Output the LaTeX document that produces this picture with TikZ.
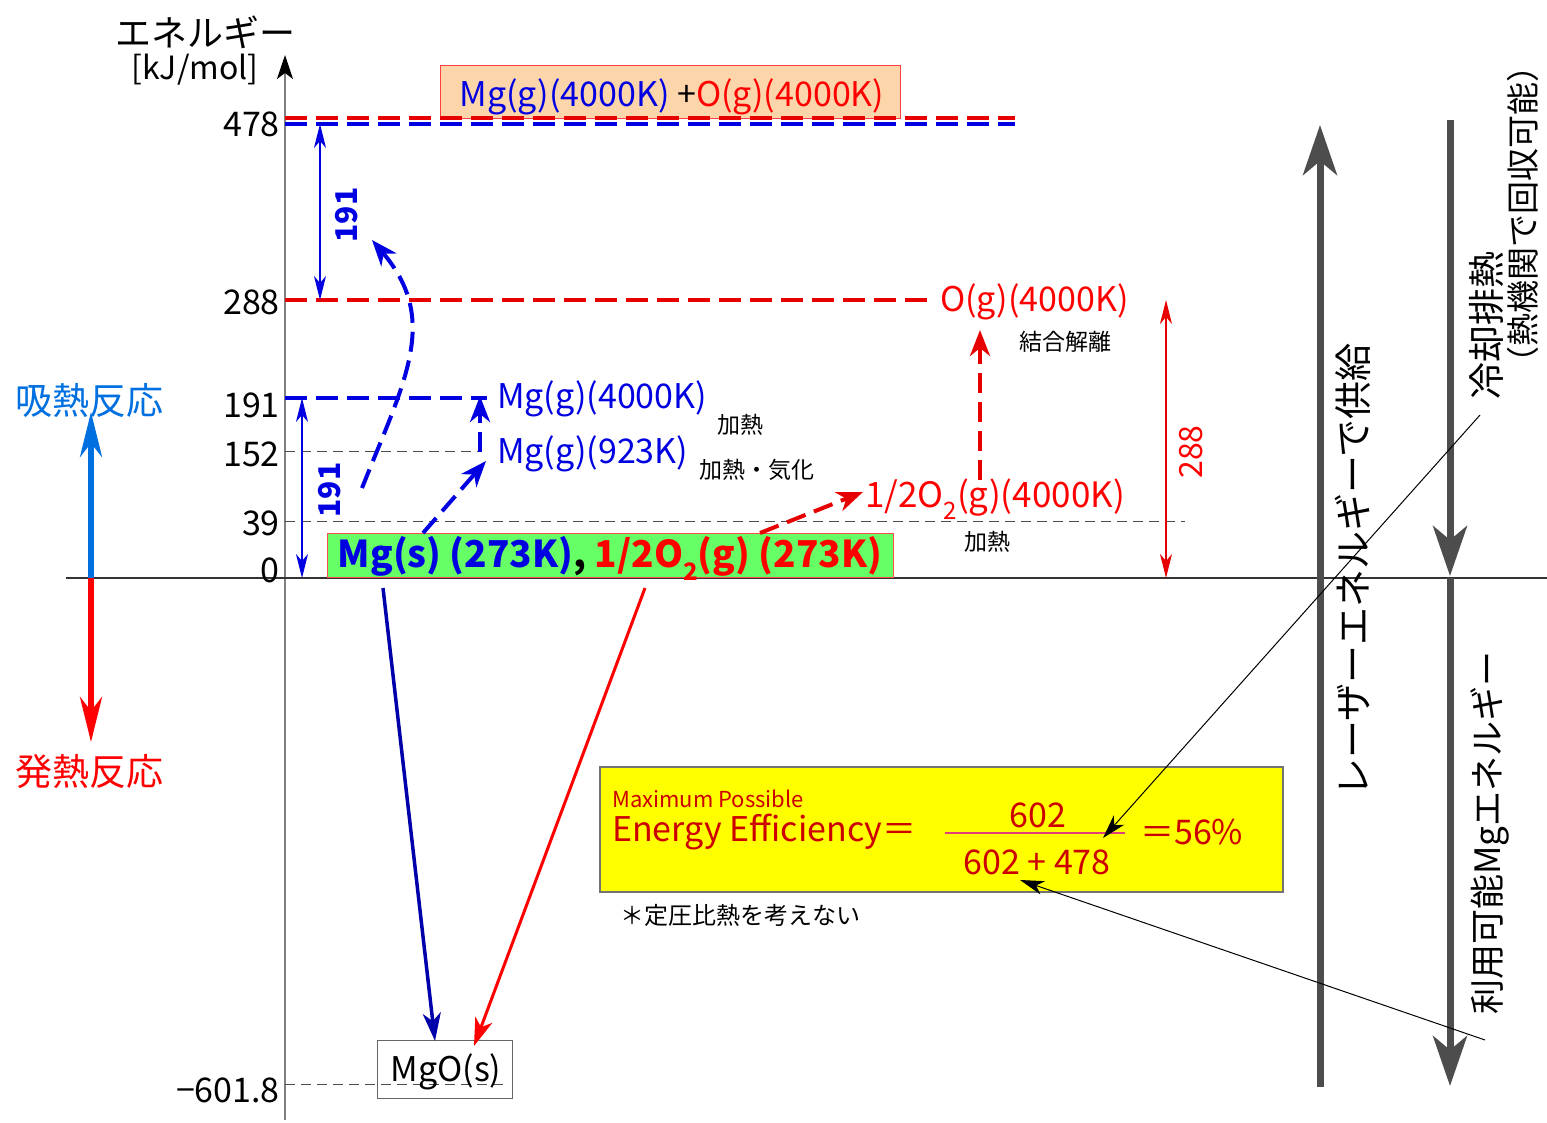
\documentclass[tikz,border=0pt]{standalone}
\usepackage{fontspec}
\setmainfont{Noto Sans CJK JP}
\usetikzlibrary{arrows.meta}
\definecolor{blueT}{RGB}{0,0,225}
\definecolor{redT}{RGB}{255,0,0}
\definecolor{redL}{RGB}{230,0,0}
\definecolor{dblue}{RGB}{0,0,170}
\definecolor{lblue}{RGB}{0,112,224}
\definecolor{garr}{RGB}{77,77,77}
\definecolor{peach}{RGB}{253,213,170}
\definecolor{gfill}{RGB}{102,255,102}
\definecolor{yfill}{RGB}{255,255,0}
\definecolor{dred}{RGB}{204,0,0}
\definecolor{fracl}{RGB}{224,64,122}
\newcommand{\fs}[1]{\fontsize{#1}{#1}\selectfont}
\newcommand{\mysub}[1]{\raisebox{-0.35em}{\fs{24}#1}}
\tikzset{
  lbl/.style={inner sep=0pt, font=\fs{34}},
  tick/.style={inner sep=0pt, anchor=east, font=\fs{34}},
  small/.style={inner sep=0pt, font=\fs{23}},
  lvl/.style={line width=4.5pt, dash pattern=on 22pt off 9pt},
  thindash/.style={line width=1pt, dash pattern=on 10pt off 6pt, draw=black!70},
  dblarr/.style={line width=1.5pt, {Stealth[length=24pt,width=12pt,inset=7pt]}-{Stealth[length=24pt,width=12pt,inset=7pt]}},
  dasharr/.style={line width=4pt, dash pattern=on 20pt off 9pt, -{Stealth[length=26pt,width=20pt,inset=8pt]}},
  solidarr/.style={line width=3.5pt, -{Stealth[length=28pt,width=18pt,inset=8pt]}},
  bigarr/.style={line width=7pt, draw=garr, -{Stealth[length=50pt,width=34pt,inset=14pt]}},
  thinarr/.style={line width=1pt, -{Stealth[length=24pt,width=14pt,inset=7pt]}},
  sidearr/.style={line width=6pt, -{Stealth[length=45pt,width=22pt,inset=14pt]}},
}
\begin{document}
\begin{tikzpicture}[x=1pt,y=-1pt]
\useasboundingbox (0,0) rectangle (1547,1123);
% axes
\coordinate (axB) at (285,1120);
\coordinate (axT) at (285,55);
\draw[line width=2pt, draw=black!50, -{Stealth[length=24pt,width=16pt,inset=6pt,color=black]}] (axB) -- (axT);
\coordinate (zL) at (66,578);
\coordinate (zR) at (1547,578);
\draw[line width=1.2pt, draw=black!80] (zL) -- (zR);
\node[inner sep=0pt, font=\fs{36}] (ttl) at (205,32) {エネルギー};
\node[inner sep=0pt, font=\fs{32}] (unit) at (195,70) {[kJ/mol]};
% ticks
\node[tick] (t478) at (280,124) {478};
\node[tick] (t288) at (280,302) {288};
\node[tick] (t191) at (280,405) {191};
\node[tick] (t152) at (280,454) {152};
\node[tick] (t39) at (280,523) {39};
\node[tick] (t0) at (280,570) {0};
\node[tick] (tneg) at (280,1090) {−601.8};
% top box
\node[draw=red!75, line width=1pt, fill=peach, minimum width=460pt, minimum height=53pt, inner sep=0pt] (topbox) at (670,92) {};
\node[inner sep=0pt, font=\fs{34}] (toptext) at (672,97) {\textcolor{blueT}{Mg(g)(4000K)} +\textcolor{redT}{O(g)(4000K)}};
% levels
\coordinate (l478a) at (285,118); \coordinate (l478b) at (1015,118);
\coordinate (l478c) at (285,124); \coordinate (l478d) at (1015,124);
\draw[lvl, draw=redL] (l478a) -- (l478b);
\draw[lvl, draw=blueT] (l478c) -- (l478d);
\coordinate (l288a) at (285,300); \coordinate (l288b) at (930,300);
\draw[lvl, draw=redL] (l288a) -- (l288b);
\coordinate (l191a) at (285,398); \coordinate (l191b) at (487,398);
\draw[lvl, draw=blueT] (l191a) -- (l191b);
\coordinate (l152a) at (285,451); \coordinate (l152b) at (480,451);
\draw[thindash] (l152a) -- (l152b);
\coordinate (l39a) at (285,521); \coordinate (l39b) at (1185,521);
\draw[thindash] (l39a) -- (l39b);
\coordinate (lnega) at (285,1084); \coordinate (lnegb) at (505,1084);
\draw[thindash] (lnega) -- (lnegb);
% 191 arrows
\coordinate (a1t) at (320,124); \coordinate (a1b) at (320,300);
\draw[dblarr, draw=blueT] (a1t) -- (a1b);
\node[inner sep=0pt, rotate=90, font=\fs{30}\bfseries, text=blueT] (n191a) at (347,215) {191};
\coordinate (a2t) at (302,398); \coordinate (a2b) at (302,578);
\draw[dblarr, draw=blueT] (a2t) -- (a2b);
\node[inner sep=0pt, rotate=90, font=\fs{30}\bfseries, text=blueT] (n191b) at (330,490) {191};
% curve
\coordinate (cs) at (362,488); \coordinate (ce) at (372,240);
\draw[dasharr, draw=blueT] (cs) .. controls (405,380) and (440,320) .. (ce);
% labels
\node[lbl, anchor=west, text=blueT] (mg4000) at (497,399) {Mg(g)(4000K)};
\node[small] (kanetsu1) at (740,425) {加熱};
\node[lbl, anchor=west, text=blueT] (mg923) at (497,454) {Mg(g)(923K)};
\node[small] (kanetsu2) at (757,470) {加熱・気化};
\node[lbl, anchor=west, text=redT] (o4000) at (940,302) {O(g)(4000K)};
\node[small] (ketsugo) at (1065,342) {結合解離};
\node[lbl, anchor=west, text=redT, font=\fs{35}] (o2) at (865,499) {1/2O\mysub{2}(g)(4000K)};
\node[small] (kanetsu3) at (987,542) {加熱};
% green box
\node[draw=red!70, line width=1pt, fill=gfill, minimum width=566pt, minimum height=44pt, inner sep=0pt] (gbox) at (610,555) {};
\node[inner sep=0pt, font=\fs{37}\bfseries] (gtext) at (610,558) {\textcolor{blueT}{Mg(s) (273K)}, \textcolor{redT}{1/2O\mysub{2}(g) (273K)}};
% dashed arrows
\coordinate (d1s) at (423,533); \coordinate (d1e) at (486,461);
\draw[dasharr, draw=blueT] (d1s) -- (d1e);
\coordinate (d2s) at (480,452); \coordinate (d2e) at (480,396);
\draw[dasharr, draw=blueT] (d2s) -- (d2e);
\coordinate (d3s) at (760,533); \coordinate (d3e) at (863,492);
\draw[dasharr, draw=redL] (d3s) -- (d3e);
\coordinate (d4s) at (980,480); \coordinate (d4e) at (980,330);
\draw[dasharr, draw=redL] (d4s) -- (d4e);
% 288
\coordinate (r288t) at (1166,300); \coordinate (r288b) at (1166,578);
\draw[dblarr, draw=redL] (r288t) -- (r288b);
\node[inner sep=0pt, rotate=90, font=\fs{32}, text=redT] (n288) at (1191,452) {288};
% MgO
\node[draw=black!60, line width=1pt, minimum width=135pt, minimum height=58pt, inner sep=0pt] (mgo) at (445,1069) {};
\node[inner sep=0pt, font=\fs{34}] (mgotext) at (446,1072) {MgO(s)};
\coordinate (s1s) at (383,588); \coordinate (s1e) at (435,1041);
\draw[solidarr, draw=dblue] (s1s) -- (s1e);
\coordinate (s2s) at (645,588); \coordinate (s2e) at (474,1046);
\draw[solidarr, line width=3pt, draw=redT] (s2s) -- (s2e);
% left arrows
\coordinate (lo) at (91,578); \coordinate (lup) at (91,412); \coordinate (ldn) at (91,742);
\draw[sidearr, draw=lblue] (lo) -- (lup);
\draw[sidearr, draw=redT] (lo) -- (ldn);
\node[inner sep=0pt, font=\fs{37}, text=lblue] (kyu) at (90,400) {吸熱反応};
\node[inner sep=0pt, font=\fs{37}, text=redT] (hatsu) at (90,772) {発熱反応};
% right big arrows
\coordinate (u1b) at (1320,1087); \coordinate (u1t) at (1320,125);
\draw[bigarr] (u1b) -- (u1t);
\coordinate (v1t) at (1450,120); \coordinate (v1b) at (1450,576);
\draw[bigarr] (v1t) -- (v1b);
\coordinate (v2t) at (1450,578); \coordinate (v2b) at (1450,1086);
\draw[bigarr] (v2t) -- (v2b);
\node[inner sep=0pt, rotate=90, font=\fs{38}] (laser) at (1353,570) {レーザーエネルギーで供給};
\node[inner sep=0pt, rotate=90, anchor=west, font=\fs{37}] (reikyaku) at (1486,400) {冷却排熱};
\node[inner sep=0pt, rotate=90, anchor=west, font=\fs{33}] (netsukikan) at (1523,380) {（熱機関で回収可能）};
\node[inner sep=0pt, rotate=90, font=\fs{35}] (riyou) at (1490,833) {利用可能Mgエネルギー};
% yellow box
\node[draw=black!55, line width=1.5pt, fill=yfill, minimum width=683pt, minimum height=125pt, inner sep=0pt] (ybox) at (941.5,829.5) {};
\node[inner sep=0pt, anchor=west, font=\fs{22}, text=dred] (maxp) at (612,799) {Maximum Possible};
\node[inner sep=0pt, anchor=west, font=\fs{34}, text=dred] (ee) at (612,832) {Energy Efficiency＝};
\node[inner sep=0pt, font=\fs{34}, text=dred] (num) at (1038,815) {602};
\coordinate (fa) at (945,833); \coordinate (fb) at (1125,833);
\draw[line width=2pt, draw=fracl] (fa) -- (fb);
\node[inner sep=0pt, font=\fs{34}, text=dred] (den) at (1037,862) {602 + 478};
\node[inner sep=0pt, anchor=west, font=\fs{34}, text=dred] (res) at (1140,832) {＝56\%};
\node[inner sep=0pt, anchor=west, font=\fs{24}] (note) at (620,915) {＊定圧比熱を考えない};
% thin pointer arrows
\coordinate (p1s) at (1480,415); \coordinate (p1e) at (1103,838);
\draw[thinarr] (p1s) -- (p1e);
\coordinate (p2s) at (1485,1040); \coordinate (p2e) at (1020,880);
\draw[thinarr] (p2s) -- (p2e);
\end{tikzpicture}
\end{document}
